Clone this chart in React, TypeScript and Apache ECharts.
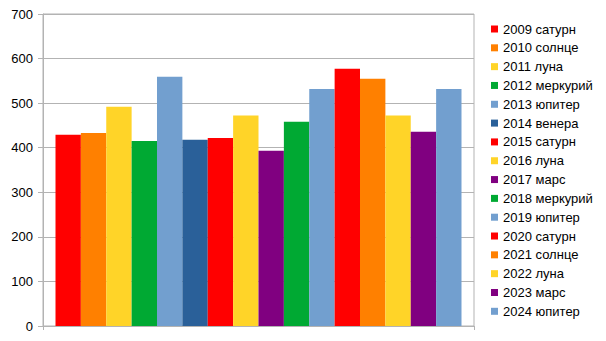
import React, { useEffect, useRef } from "react";
import * as echarts from "echarts";

const seriesNames = [
  "2009 сатурн", "2010 солнце", "2011 луна", "2012 меркурий", "2013 юпитер", "2014 венера",
  "2015 сатурн", "2016 луна", "2017 марс", "2018 меркурий", "2019 юпитер", "2020 сатурн",
  "2021 солнце", "2022 луна", "2023 марс", "2024 юпитер",
];
const seriesValues = [429, 433, 492, 415, 559, 418, 422, 472, 393, 458, 532, 577, 555, 472, 436, 532];
const seriesColors = [
  "#ff0000", "#ff8000", "#ffd428", "#00a933", "#729fcf", "#2a6099",
  "#ff0000", "#ffd428", "#800080", "#00a933", "#729fcf", "#ff0000",
  "#ff8000", "#ffd428", "#800080", "#729fcf",
];
const categories = [""];

export default function App() {
  const ref = useRef<HTMLDivElement>(null);
  useEffect(() => {
    if (!ref.current) return;
    const chart = echarts.init(ref.current, null, { renderer: "svg" });
    const font = "'Liberation Sans', Arial, sans-serif";
    chart.setOption({
      animation: false,
      backgroundColor: "#ffffff",
      textStyle: { fontFamily: font },
      grid: {
        left: 43,
        right: 132,
        top: 14,
        bottom: 15,
        show: true,
        borderColor: "#b3b3b3",
        borderWidth: 1,
        backgroundColor: "transparent",
      },
      legend: {
        orient: "vertical",
        left: 491,
        top: 22,
        padding: 0,
        itemWidth: 7,
        itemHeight: 7,
        itemGap: 4.82,
        icon: "rect",
        textStyle: { fontFamily: font, fontSize: 13, color: "#000", lineHeight: 14 },
        data: seriesNames,
      },
      xAxis: {
        type: "category",
        data: categories,
        axisLine: { show: true, lineStyle: { color: "#b3b3b3", width: 1 } },
        axisTick: { show: true, length: 4, lineStyle: { color: "#b3b3b3" } },
        axisLabel: { show: false },
      },
      yAxis: {
        type: "value",
        min: 0,
        max: 700,
        interval: 100,
        axisLine: { show: true, lineStyle: { color: "#b3b3b3", width: 1 } },
        axisTick: { show: true, length: 5, lineStyle: { color: "#b3b3b3" } },
        axisLabel: { fontFamily: font, fontSize: 13, color: "#000", margin: 10 },
        splitLine: { show: true, lineStyle: { color: "#b3b3b3", width: 1 } },
      },
      series: seriesNames.map((name, i) => ({
        name,
        type: "bar",
        data: [seriesValues[i]],
        barGap: 0,
        barCategoryGap: "5.8%",
        itemStyle: { color: seriesColors[i] },
      })),
    });
    return () => chart.dispose();
  }, []);
  return <div ref={ref} style={{ width: 606, height: 341, position: "absolute", left: 0, top: 0 }} />;
}
